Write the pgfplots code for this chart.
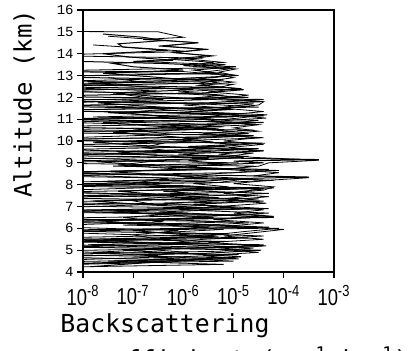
\documentclass[border=0pt]{standalone}
\usepackage{pgfplots}
\pgfplotsset{compat=1.18}
\usepackage{fontspec}
\setmainfont{DejaVu Sans}
\newfontfamily\monof{DejaVu Sans Mono}
\newfontfamily\tickf[FakeStretch=0.8]{Liberation Sans}
\newfontfamily\ytickf{Liberation Mono}
\begin{document}
\begin{tikzpicture}
\begin{axis}[at={(0,0)}, anchor=south west, scale only axis,
  width=125.5pt, height=131pt,
  xmin=-8, xmax=-3, ymin=4, ymax=16,
  xtick={-8,-7,-6,-5,-4,-3},
  xticklabels={10\textsuperscript{-8},10\textsuperscript{-7},10\textsuperscript{-6},10\textsuperscript{-5},10\textsuperscript{-4},10\textsuperscript{-3}},
  ytick={4,5,...,16},
  /pgf/number format/assume math mode=true,
  tick align=outside, xtick pos=bottom, ytick pos=left,
  major tick length=3pt,
  axis line style={line width=0.8pt},
  tick style={line width=0.6pt, black},
  xticklabel style={font=\tickf\fontsize{11.5}{12}\selectfont},
  yticklabel style={font=\ytickf\fontsize{7}{8}\selectfont, inner sep=1.5pt},
  cycle list={{black, line width=0.5pt, mark=none}},
]
% profile 1
\addplot coordinates {(-9,4.20) (-5.2,4.35) (-7.5,4.50) (-5.0,4.65) (-8.8,4.80) (-5.3,4.95) (-4.6,5.10) (-7.9,5.25) (-5.1,5.40) (-9,5.55) (-5.4,5.70) (-4.8,5.85) (-4.1,6.00) (-7.2,6.15) (-5.0,6.30) (-9,6.45) (-4.9,6.60) (-6.5,6.75) (-4.6,6.90) (-9,7.05) (-5.2,7.20) (-4.5,7.35) (-8.1,7.50) (-5.0,7.65) (-4.4,7.80) (-9,7.95) (-5.3,8.10) (-4.8,8.25) (-9,8.40) (-5.0,8.55) (-4.3,8.70) (-7.4,8.85) (-4.9,9.00) (-9,9.15) (-5.1,9.30) (-4.6,9.45) (-8.6,9.60) (-5.2,9.75) (-4.5,9.90) (-9,10.05) (-5.0,10.20) (-5.6,10.35) (-4.6,10.50) (-9,10.65) (-5.1,10.80) (-4.5,10.95) (-7.8,11.10) (-4.8,11.25) (-9,11.40) (-5.2,11.55) (-4.6,11.70) (-9,11.85) (-5.0,12.00) (-5.5,12.15) (-9,12.30) (-5.3,12.45) (-5.0,12.60) (-8.3,12.75) (-5.4,12.90) (-5.1,13.05) (-9,13.20) (-5.5,13.35) (-5.2,13.50) (-7.0,13.65) (-5.6,13.80) (-9,13.92) (-5.9,14.10) (-6.8,14.25) (-7.8,14.40)};
% profile 2
\addplot coordinates {(-7.8,4.25) (-6.0,4.55) (-9,4.70) (-5.6,4.85) (-4.45,5.00) (-8.4,5.15) (-5.5,5.30) (-9,5.45) (-5.8,5.60) (-5.1,5.75) (-9,5.90) (-4.3,6.05) (-5.9,6.20) (-9,6.35) (-4.2,6.50) (-5.7,6.65) (-9,6.80) (-5.0,6.95) (-5.8,7.10) (-4.4,7.25) (-9,7.40) (-5.5,7.55) (-6.4,7.70) (-4.2,7.85) (-9,8.00) (-5.6,8.15) (-4.9,8.28) (-3.5,8.35) (-5.0,8.42) (-9,8.55) (-5.4,8.70) (-5.9,8.85) (-4.4,9.00) (-5.0,9.08) (-3.3,9.15) (-5.1,9.22) (-9,9.35) (-5.7,9.50) (-4.5,9.65) (-9,9.80) (-5.4,9.95) (-6.0,10.10) (-4.6,10.25) (-9,10.40) (-5.3,10.55) (-6.1,10.70) (-4.4,10.85) (-9,11.00) (-4.4,11.15) (-6.2,11.30) (-5.0,11.45) (-9,11.60) (-5.5,11.75) (-4.4,11.90) (-9,12.05) (-5.6,12.20) (-4.8,12.35) (-9,12.50) (-5.7,12.65) (-5.2,12.80) (-9,12.95) (-5.3,13.10) (-5.8,13.25) (-4.95,13.40) (-6.4,13.55) (-9,13.70)};
% profile 3
\addplot coordinates {(-9,4.30) (-6.3,4.45) (-5.5,4.60) (-6.7,4.75) (-5.9,4.90) (-6.8,5.05) (-4.4,5.20) (-6.2,5.35) (-5.6,5.50) (-4.4,5.65) (-6.5,5.80) (-5.2,5.95) (-6.0,6.10) (-4.7,6.25) (-6.3,6.40) (-5.5,6.55) (-4.3,6.70) (-6.1,6.85) (-5.3,7.00) (-6.4,7.15) (-4.9,7.30) (-5.9,7.45) (-4.3,7.60) (-6.2,7.75) (-5.1,7.90) (-5.8,8.05) (-4.2,8.20) (-6.0,8.35) (-5.4,8.50) (-4.1,8.65) (-6.3,8.80) (-5.2,8.95) (-5.9,9.10) (-4.8,9.25) (-6.1,9.40) (-4.4,9.55) (-5.8,9.70) (-4.9,9.85) (-6.2,10.00) (-4.4,10.15) (-5.7,10.30) (-5.0,10.45) (-6.3,10.60) (-4.5,10.75) (-5.6,10.90) (-4.9,11.05) (-4.33,11.20) (-5.8,11.35) (-5.1,11.50) (-6.0,11.65) (-4.4,11.80) (-5.9,11.95) (-5.2,12.10) (-6.1,12.25) (-4.85,12.40) (-5.7,12.55) (-5.3,12.70) (-6.2,12.85) (-4.9,13.00) (-5.6,13.15) (-5.1,13.30) (-6.0,13.45) (-5.4,13.60) (-6.3,13.75) (-5.5,13.90) (-6.2,14.05) (-5.6,14.20) (-6.5,14.35) (-5.7,14.50) (-6.6,14.65) (-7.5,14.80)};
% profile 4
\addplot coordinates {(-9,4.35) (-5.0,4.50) (-6.6,4.65) (-4.9,4.80) (-9,4.95) (-5.4,5.10) (-4.4,5.25) (-9,5.40) (-4.7,5.55) (-6.9,5.70) (-9,5.85) (-4.5,6.00) (-5.6,6.15) (-9,6.30) (-5.1,6.45) (-4.4,6.60) (-9,6.75) (-4.3,6.90) (-5.5,7.05) (-9,7.20) (-5.2,7.35) (-4.6,7.50) (-9,7.65) (-5.0,7.80) (-5.9,7.95) (-9,8.10) (-4.5,8.25) (-5.8,8.40) (-9,8.55) (-5.1,8.70) (-4.6,8.85) (-9,9.00) (-5.5,9.15) (-4.7,9.30) (-9,9.45) (-5.0,9.60) (-5.9,9.75) (-4.37,9.90) (-9,10.05) (-5.4,10.20) (-4.7,10.35) (-9,10.50) (-5.2,10.65) (-5.9,10.80) (-9,10.95) (-5.0,11.10) (-5.7,11.25) (-9,11.40) (-4.5,11.55) (-5.6,11.70) (-9,11.85) (-4.7,12.00) (-5.9,12.15) (-9,12.30) (-5.1,12.45) (-9,12.60) (-5.5,12.75) (-5.0,12.90) (-5.3,13.05) (-6.0,13.18) (-9,13.20)};
% profile 5
\addplot coordinates {(-8.0,4.40) (-5.6,4.55) (-4.85,4.70) (-6.0,4.85) (-7.2,5.00) (-5.0,5.15) (-6.4,5.30) (-7.6,5.45) (-5.3,5.60) (-6.2,5.75) (-7.0,5.90) (-5.5,6.05) (-6.8,6.20) (-7.7,6.35) (-5.4,6.50) (-6.6,6.65) (-7.4,6.80) (-5.6,6.95) (-6.9,7.10) (-7.8,7.25) (-5.3,7.40) (-6.5,7.55) (-7.3,7.70) (-5.4,7.85) (-6.7,8.00) (-7.6,8.15) (-5.6,8.30) (-6.4,8.45) (-7.5,8.60) (-5.3,8.75) (-6.8,8.90) (-7.7,9.05) (-5.5,9.20) (-6.6,9.35) (-7.3,9.50) (-5.4,9.65) (-6.9,9.80) (-7.8,9.95) (-5.7,10.10) (-6.5,10.25) (-7.4,10.40) (-5.5,10.55) (-6.7,10.70) (-7.6,10.85) (-5.4,11.00) (-6.4,11.15) (-7.5,11.30) (-5.6,11.45) (-6.8,11.60) (-7.7,11.75) (-5.5,11.90) (-6.6,12.05) (-7.4,12.20) (-5.8,12.35) (-6.9,12.50) (-7.9,12.65) (-5.9,12.80) (-6.7,12.95) (-7.6,13.10) (-6.0,13.25) (-7.0,13.40) (-7.4,13.55) (-6.2,13.70) (-7.1,13.85) (-7.6,14.00) (-6.3,14.15) (-7.2,14.30) (-7.3,14.45) (-6.4,14.60) (-6.8,14.75) (-7.6,14.90)};
% profile 6
\addplot coordinates {(-9,4.45) (-4.9,4.60) (-5.6,4.75) (-4.5,4.90) (-5.3,5.05) (-4.35,5.20) (-5.5,5.35) (-4.4,5.50) (-5.2,5.65) (-4.6,5.80) (-4.0,5.95) (-5.1,6.10) (-4.4,6.25) (-5.4,6.40) (-4.2,6.55) (-5.0,6.70) (-4.4,6.85) (-5.3,7.00) (-4.35,7.15) (-5.1,7.30) (-4.3,7.45) (-5.2,7.60) (-4.4,7.75) (-4.2,7.90) (-5.0,8.05) (-4.3,8.20) (-3.5,8.32) (-4.6,8.40) (-4.1,8.55) (-5.2,8.70) (-4.5,8.85) (-4.3,9.00) (-3.3,9.12) (-4.6,9.25) (-5.3,9.40) (-4.4,9.55) (-5.1,9.70) (-4.4,9.85) (-5.2,10.00) (-4.5,10.15) (-5.3,10.30) (-4.5,10.45) (-5.0,10.60) (-4.5,10.75) (-5.4,10.90) (-4.35,11.05) (-5.1,11.20) (-4.4,11.35) (-5.2,11.50) (-4.5,11.65) (-4.4,11.80) (-5.3,11.95) (-4.7,12.10) (-5.5,12.25) (-4.9,12.40) (-5.6,12.55) (-5.0,12.70) (-5.7,12.85) (-4.95,13.00) (-5.3,13.15) (-4.95,13.30) (-5.8,13.45) (-5.2,13.60) (-5.9,13.75) (-5.4,13.90) (-6.2,14.05) (-5.5,14.20) (-6.4,14.35) (-5.7,14.50) (-6.8,14.65) (-6.0,14.75) (-6.5,15.00) (-9,15.02)};
% profile 7
\addplot coordinates {(-9,4.5) (-6.3,4.7) (-7.8,4.9) (-6.0,5.1) (-9,5.3) (-6.5,5.5) (-7.0,5.7) (-6.1,5.9) (-9,6.1) (-6.4,6.3) (-7.2,6.5) (-5.9,6.7) (-9,6.9) (-6.6,7.1) (-7.1,7.3) (-6.0,7.5) (-9,7.7) (-6.2,7.9) (-6.9,8.1) (-6.3,8.3) (-9,8.5) (-6.0,8.7) (-7.3,8.9) (-6.5,9.1) (-9,9.3) (-6.1,9.5) (-6.8,9.7) (-6.4,9.9) (-9,10.1) (-6.2,10.3) (-7.0,10.5) (-6.0,10.7) (-9,10.9) (-6.3,11.1) (-7.2,11.3) (-6.1,11.5) (-9,11.7) (-6.4,11.9) (-7.1,12.1) (-6.6,12.3) (-9,12.5) (-6.8,12.7) (-7.5,12.9)};
\end{axis}
\node[rotate=90, font=\monof\fontsize{12}{14}\selectfont] at (-29.5pt,84pt) {Altitude (km)};
\node[anchor=base, inner sep=0pt, font=\monof\fontsize{12.4}{14}\selectfont] at (41pt,-30pt) {Backscattering};
\node[anchor=base, inner sep=0pt, font=\monof\fontsize{12.4}{14}\selectfont] at (81pt,-48pt) {coefficient (sr\textsuperscript{-1} km\textsuperscript{-1})};
\pgfresetboundingbox
\useasboundingbox (-41.5pt,-39pt) rectangle (162.5pt,136pt);
\end{tikzpicture}
\end{document}
